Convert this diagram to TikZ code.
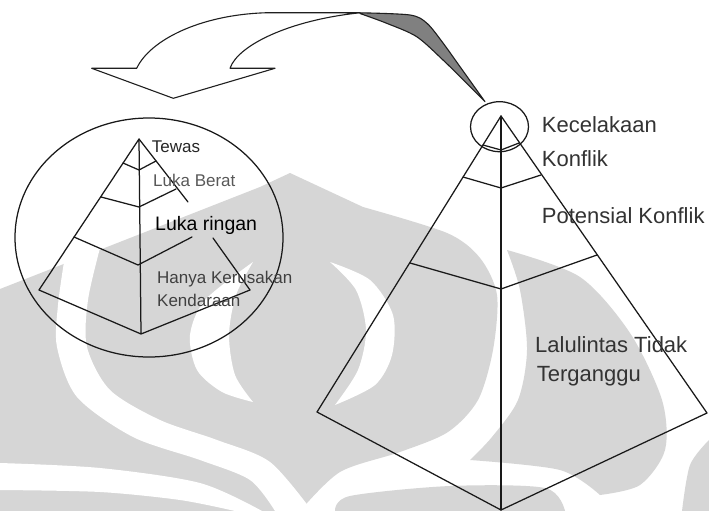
\documentclass[tikz,border=0pt]{standalone}
\usepackage{fontspec}
\setmainfont{Liberation Sans}
\begin{document}
\begin{tikzpicture}[x=1pt,y=-1pt,
  ln/.style={draw=black!90,line width=1.25pt,line join=round,line cap=round},
  lbl/.style={anchor=base west,inner sep=0pt,font=\fontsize{22}{26}\selectfont,text=black!80},
  slbl/.style={anchor=base west,inner sep=0pt,font=\fontsize{17}{20}\selectfont,text=black!75},
  wm/.style={fill=black!16,draw=none},
  wmw/.style={fill=white,draw=none}]
\useasboundingbox (0,0) rectangle (709,511);
\fill[white] (0,0) rectangle (709,511);

% ---------- watermark (background logo) ----------
\fill[wm] (0,289) -- (260,187) -- (290,173) -- (363,207)
  -- plot[smooth] coordinates {(363,207) (447,233) (480,258) (497,295) (493,350) (478,400) (448,432) (400,452) (340,472) (300,511)}
  -- (0,511) -- cycle;
\fill[wm] plot[smooth] coordinates {(507,250) (580,277) (630,333) (662,400) (665,450) (640,485) (600,495)}
  -- plot[smooth] coordinates {(600,495) (560,470) (470,460)}
  -- plot[smooth] coordinates {(470,460) (492,437) (518,400) (527,350) (520,290) (507,250)} -- cycle;
\fill[wm] plot[smooth] coordinates {(335,511) (350,496) (450,486) (545,488) (565,511)} -- cycle;
\fill[wm] plot[smooth] coordinates {(709,440) (690,465) (682,511)} -- (709,511) -- cycle;
% white cut-outs
\fill[wmw] plot[smooth] coordinates {(64,262) (58,305) (57,347) (77,397) (133,437) (200,460) (250,480) (275,511)}
  -- plot[smooth] coordinates {(312,511) (270,462) (217,440) (160,420) (110,390) (87,347) (88,300) (100,248)} -- cycle;
\fill[wmw] plot[smooth] coordinates {(253,262) (205,300) (190,335) (197,370) (222,392) (253,402)}
  -- plot[smooth] coordinates {(253,402) (235,375) (229,335) (236,295) (253,262)} -- cycle;
\fill[wmw] plot[smooth] coordinates {(330,262) (370,280) (393,315) (392,355) (375,385) (335,405)}
  -- plot[smooth] coordinates {(335,405) (358,370) (366,330) (356,290) (330,262)} -- cycle;
\fill[wmw] plot[smooth] coordinates {(0,463) (100,468) (200,483) (262,511)}
  -- plot[smooth] coordinates {(235,511) (180,500) (100,492) (0,490)} -- cycle;

% ---------- curved arrow ----------
\coordinate (lw) at (91.7,68.3);
\coordinate (tip) at (173.3,98.3);
\coordinate (rw) at (275,68.3);
\coordinate (sl) at (136.7,68.3);
\coordinate (sr) at (230,68.3);
\coordinate (tw) at (360,12.8);
\coordinate (pt) at (485,101.7);
\filldraw[fill=white,draw=black!88,line width=1.1pt,line join=round]
  (lw) -- (sl) .. controls (150,40) and (200,15) .. (265,12.8) -- (tw)
  .. controls (290,20) and (238,45) .. (sr) -- (rw) -- (tip) -- cycle;
\filldraw[fill=black!50,draw=black!88,line width=1.1pt,line join=round]
  plot[smooth] coordinates {(360,12.8) (410,15) (427,23.3) (443,43) (460,66.7) (485,101.7)}
  -- plot[smooth] coordinates {(485,101.7) (466.7,83.3) (443,60) (416.7,36.7) (386.7,23.3) (360,13.5)} -- cycle;

% ---------- big pyramid ----------
\coordinate (A) at (501,116);
\coordinate (L) at (317,412);
\coordinate (R) at (707,413);
\coordinate (B) at (501,510);
\draw[ln] (L) -- (A) -- (R) -- (B) -- cycle;
\draw[ln] (A) -- (B);
\draw[ln] (483,145) -- (501,150) -- (519,143);
\draw[ln] (463,177) -- (501,188) -- (541,175);
\draw[ln] (410,263) -- (501,289) -- (597,255);
\draw[ln] (499.5,126.7) ellipse [x radius=29, y radius=25];

% ---------- small pyramid in circle ----------
\draw[ln] (149,237.5) ellipse [x radius=134, y radius=119.5];
\coordinate (a) at (139,139);
\coordinate (l) at (39,290);
\coordinate (r) at (250,290);
\coordinate (b) at (141,334);
\coordinate (g1) at (188,202);
\coordinate (g2) at (213,238);
\draw[ln] (r) -- (b) -- (l) -- (a) -- (b);
\draw[ln] (a) -- (g1);
\draw[ln] (g2) -- (r);
\draw[ln] (123,163) -- (139,170) -- (156,161);
\draw[ln] (101,197) -- (139,207) -- (176,189);
\draw[ln] (74,237) -- (138,265) -- (192,237);

% ---------- labels ----------
\node[lbl] (kec) at (541.7,132.7) {Kecelakaan};
\node[lbl] (kon) at (541.7,166.7) {Konflik};
\node[lbl] (pot) at (541.7,223) {Potensial Konflik};
\node[lbl] (lal) at (535,352.7) {Lalulintas Tidak};
\node[lbl] (ter) at (536.7,381.7) {Terganggu};
\node[slbl,text=black!85] (tew) at (151.7,152.7) {Tewas};
\node[slbl,text=black!65] (lb) at (153,186.7) {Luka Berat};
\node[slbl,font=\fontsize{19.5}{22}\selectfont,text=black] (lr) at (155,230.7) {Luka ringan};
\node[slbl] (hk) at (157,283.3) {Hanya Kerusakan};
\node[slbl] (kd) at (157,306.7) {Kendaraan};
\end{tikzpicture}
\end{document}
